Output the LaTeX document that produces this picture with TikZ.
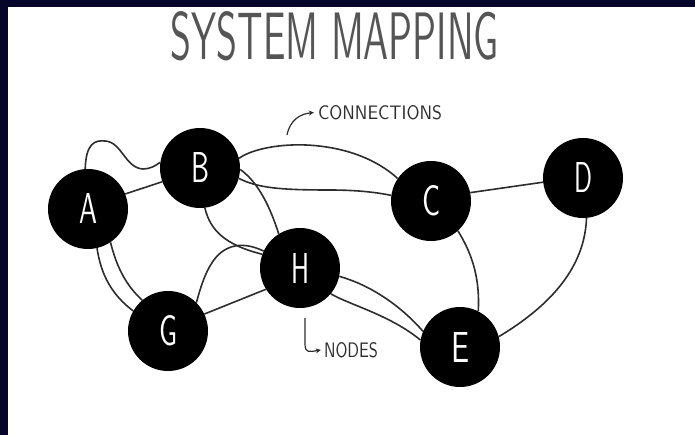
\documentclass[tikz,border=0pt]{standalone}
\usepackage{graphicx}
\usetikzlibrary{arrows.meta}
\definecolor{frame}{RGB}{6,6,42}
\definecolor{ink}{RGB}{45,45,45}
\definecolor{titleink}{RGB}{85,85,85}
\pgfdeclarelayer{bg}
\pgfdeclarelayer{edges}
\pgfsetlayers{bg,edges,main}
\tikzset{
  bubble/.style={circle,fill=black,minimum size=80pt,inner sep=0pt,text=white},
  link/.style={draw=ink,line width=1.6pt},
  note/.style={text=ink,inner sep=0pt},
  pointer/.style={draw=ink,line width=1.2pt,-{Stealth[length=5pt,width=5pt]}}
}
\newcommand{\lett}[1]{\resizebox{18pt}{30pt}{\sffamily #1}}
\begin{document}
\begin{tikzpicture}[x=1pt,y=-1pt]
\useasboundingbox (0,0) rectangle (695,435);
\begin{pgfonlayer}{bg}
  \fill[white] (0,0) rectangle (695,435);
  \fill[frame] (0,0) rectangle (695,7);
  \fill[frame] (0,0) rectangle (8,435);
\end{pgfonlayer}

% title
\node[text=titleink,inner sep=0pt] (title) at (335,36) {\resizebox{328pt}{48pt}{\sffamily SYSTEM MAPPING}};

% nodes
\node[bubble] (A) at (88,209) {\lett{A}};
\node[bubble] (B) at (200,168) {\lett{B}};
\node[bubble] (C) at (431,201) {\lett{C}};
\node[bubble] (D) at (583,178) {\lett{D}};
\node[bubble] (E) at (460,347) {\lett{E}};
\node[bubble] (G) at (168,331) {\lett{G}};
\node[bubble] (H) at (300,268) {\lett{H}};

% connectors
\begin{pgfonlayer}{edges}
  \draw[link] (A.94) .. controls (86,143) and (95,140) .. (105,141)
                     .. controls (122,142) and (125,168) .. (143,169)
                     .. controls (150,169) and (155,166) .. (B.172);
  \draw[link] (A.22) -- (B.200);
  \draw[link] (A.283) .. controls (101,275) and (112,295) .. (G.150);
  \draw[link] (A.304) .. controls (117,268) and (126,285) .. (G.130);
  \draw[link] (B.14) .. controls (265,140) and (350,135) .. (C.146);
  \draw[link] (B.-15) .. controls (258,188) and (280,190) .. (330,190)
                      .. controls (360,190) and (380,193) .. (C.172);
  \draw[link] (B.-2) .. controls (255,180) and (268,200) .. (H.122);
  \draw[link] (B.-83) .. controls (210,230) and (225,245) .. (H.160);
  \draw[link] (G.45) .. controls (205,270) and (215,250) .. (235,246)
                     .. controls (245,244) and (255,247) .. (H.155);
  \draw[link] (G.25) -- (H.212);
  \draw[link] (H.-12) .. controls (370,285) and (400,305) .. (E.157);
  \draw[link] (H.-40) .. controls (350,305) and (390,315) .. (E.170);
  \draw[link] (C.-48) .. controls (473,255) and (480,280) .. (E.63);
  \draw[link] (C.12) -- (D.186);
  \draw[link] (D.-85) .. controls (585,260) and (560,300) .. (E.15);
\end{pgfonlayer}

% annotations
\node[note] (conn) at (380,112.5) {\resizebox{124pt}{14pt}{\sffamily CONNECTIONS}};
\coordinate (connstart) at (287,135);
\draw[pointer] (connstart) .. controls (290,120) and (300,114) .. ([xshift=-4pt]conn.west);

\node[note] (nodes) at (351,350) {\resizebox{54pt}{15pt}{\sffamily NODES}};
\coordinate (hooktop) at (305,318);
\draw[pointer] (hooktop) -- (305,344) .. controls (305,353) and (309,352) .. ([xshift=-3pt]nodes.west);
\end{tikzpicture}
\end{document}
